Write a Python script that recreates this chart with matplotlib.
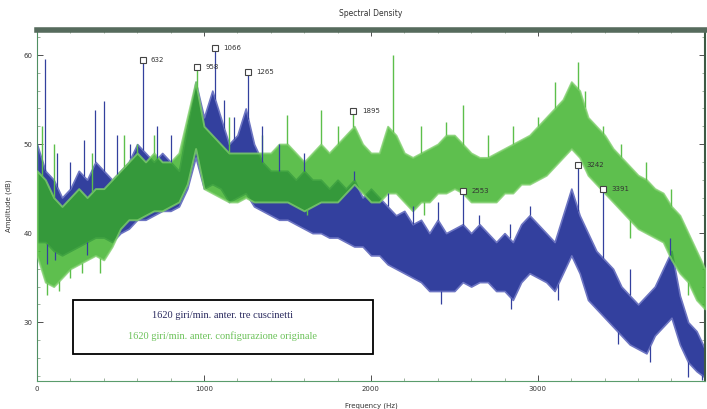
import numpy as np
import matplotlib.pyplot as plt
from matplotlib.patches import Rectangle

# frequency grid of the read-off envelope (Hz)
freq = np.arange(0, 4001, 50)

# blue: "1620 giri/min. anter. tre cuscinetti" (upper / lower edge of the trace, dB)
blue_hi = [50, 47, 46, 44, 45, 47, 46, 48, 47, 46, 47, 48, 50, 49, 48, 49, 48, 47, 52, 57,
           53, 56, 53, 50, 51, 54, 50, 48, 47, 47, 47, 46, 47, 46, 46, 45, 46, 45, 46, 44,
           45, 44, 43, 42, 42.5, 41, 41.5, 40, 41.5, 40, 40.5, 41, 40, 41, 40, 39, 40, 39, 41, 42,
           41, 40, 39, 42, 45, 42, 40, 38, 37, 36, 34, 33, 32, 33, 34, 36, 38, 33, 30, 29, 27]
blue_lo = [39, 39, 38, 37.5, 38, 38.5, 39, 39.5, 39.5, 39, 40, 40.5, 41.5, 41.5, 42, 42.5, 42.5, 43, 45, 48.5,
           45, 45.5, 45, 43.5, 44, 44.5, 43, 42.5, 42, 41.5, 41.5, 41, 40.5, 40, 40, 39.5, 39.5, 39, 38.5, 38.5,
           37.5, 37.5, 36.5, 36, 35.5, 35, 34.5, 33.5, 33.5, 33.5, 33.5, 34.5, 34, 34.5, 34.5, 33.5, 33.5, 32.5, 34.5, 35.5,
           35, 34.5, 33.5, 35.5, 37.5, 35.5, 32.5, 31.5, 30.5, 29.5, 28.5, 27.5, 27, 26.5, 28.5, 29.5, 30.5, 27.5, 25.5, 24.5, 23.8]

# green: "1620 giri/min. anter. configurazione originale"
green_hi = [47, 46, 44, 43, 44, 45, 44, 45, 45, 46, 47, 48, 49, 48, 49, 48, 48, 49, 53, 57,
            52, 51, 50, 49, 49, 49, 49, 49, 49, 50, 50, 49, 48, 49, 50, 49, 50, 51, 52, 50,
            49, 49, 52, 51, 49, 48.5, 49, 49.5, 50, 51, 51, 50, 49, 48.5, 48.5, 49, 49.5, 50, 50.5, 51,
            52, 53, 54, 55, 57, 56, 53, 52, 51, 49.5, 48.5, 47.5, 46.5, 46, 45, 44.5, 43, 42, 40, 38, 36]
green_lo = [37.5, 34.5, 34, 35, 36, 36.5, 37, 37.5, 37, 38.5, 40.5, 41.5, 41.5, 42, 42.5, 42.5, 43, 43.5, 45.5, 49.5,
            45, 44.5, 44, 43.5, 43.5, 44, 43.5, 43.5, 43.5, 43.5, 43.5, 43, 42.5, 43, 43.5, 43.5, 43.5, 44.5, 45.5, 44.5,
            43.5, 43.5, 44.5, 44.5, 43.5, 42.5, 43.5, 43.5, 44.5, 44.5, 45, 44.5, 43.5, 43.5, 43.5, 43.5, 44.5, 44.5, 45.5, 45.5,
            46, 46.5, 47.5, 48.5, 49.5, 48.5, 46.5, 45.5, 44.5, 43.5, 42.5, 41.5, 40.5, 40, 39.5, 39, 37, 35.5, 34.5, 32.5, 31.5]

# isolated spectral lines reaching above the band (Hz, dB)
blue_spike_f = [50, 120, 200, 280, 350, 400, 480, 560, 632, 720, 800, 1066, 1120, 1180,
                1265, 1350, 1450, 1600, 1900, 2100, 2250, 2400, 2553, 2650, 2830, 2950,
                3242, 3391, 3550, 3790]
blue_spike_db = [59.5, 49, 48, 50.5, 53.8, 54.8, 51, 50, 59.4, 52, 51, 60.8, 55, 53,
                 58.1, 52, 50, 49, 47, 44.5, 43, 43.5, 44.7, 42, 41, 43,
                 47.7, 44.9, 36, 39.5]
green_spike_f = [30, 100, 330, 520, 600, 700, 958, 1150, 1350, 1500, 1700, 1800, 1895, 2130,
                 2300, 2450, 2553, 2700, 2850, 3000, 3100, 3242, 3280, 3391, 3500, 3650, 3800]
green_spike_db = [52, 50, 49, 51, 50, 51, 58.7, 53, 51, 53.3, 53.8, 52, 53.7, 60,
                  52, 52.5, 54.4, 51, 52, 53, 57, 59.2, 56, 52, 50, 48, 45]

# dips reaching below the band (Hz, dB)
blue_dip_f = [60, 110, 300, 2420, 2840, 3120, 3480, 3670, 3900, 3980]
blue_dip_db = [36.5, 37, 37.5, 32, 31.5, 32.5, 27.5, 25.5, 23.8, 23.5]
green_dip_f = [60, 130, 200, 270, 380, 1620, 2320, 3550, 3900]
green_dip_db = [33, 33.5, 35, 35.5, 35.5, 42, 42, 39.5, 33]

# data tips
tip_f = [632, 958, 1066, 1265, 1895, 2553, 3242, 3391]
tip_db = [59.4, 58.7, 60.8, 58.1, 53.7, 44.7, 47.7, 44.9]

BLUE = "#33409e"
BLUE_EDGE = "#6d75c2"
GREEN = "#36b022"
GREEN_EDGE = "#7fcf6c"

fig = plt.figure(figsize=(7.07, 4.09), dpi=100)
ax = fig.add_axes([0.0523, 0.0685, 0.9447, 0.858])

ax.fill_between(freq, blue_lo, blue_hi, facecolor=BLUE, edgecolor=BLUE_EDGE,
                linewidth=1.2, zorder=2)
blue_top = np.interp(blue_spike_f, freq, blue_hi)
blue_bot = np.interp(blue_dip_f, freq, blue_lo)

ax.fill_between(freq, green_lo, green_hi, facecolor=GREEN, edgecolor=GREEN_EDGE,
                linewidth=1.4, alpha=0.8, zorder=3)
green_top = np.interp(green_spike_f, freq, green_hi)
green_bot = np.interp(green_dip_f, freq, green_lo)
ax.vlines(green_spike_f, green_top, green_spike_db, color="#5cbf4b", linewidth=1.0, zorder=3)
ax.vlines(green_dip_f, green_dip_db, green_bot, color="#5cbf4b", linewidth=1.0, zorder=3)

ax.vlines(blue_spike_f, blue_top, blue_spike_db, color=BLUE, linewidth=0.9, zorder=4)
ax.vlines(blue_dip_f, blue_dip_db, blue_bot, color=BLUE, linewidth=0.9, zorder=4)

ax.plot(tip_f, tip_db, "s", ms=5, mfc="white", mec="#444444", mew=0.8, zorder=6)
for f, db in zip(tip_f, tip_db):
    ax.annotate(str(f), (f, db), xytext=(6, 0), textcoords="offset points",
                fontsize=5, color="#333333", va="center", zorder=6)

# legend box
ax.add_patch(Rectangle((0.054, 0.077), 0.449, 0.154, transform=ax.transAxes,
                       facecolor="white", edgecolor="black", linewidth=1.3, zorder=7))
ax.text(0.278, 0.187, "1620 giri/min. anter. tre cuscinetti", transform=ax.transAxes,
        ha="center", va="center", fontsize=7.5, family="Liberation Serif",
        color="#2a2a5e", zorder=8)
ax.text(0.278, 0.128, "1620 giri/min. anter. configurazione originale", transform=ax.transAxes,
        ha="center", va="center", fontsize=7.5, family="Liberation Serif",
        color="#6cc25a", zorder=8)

ax.set_xlim(0, 4000)
ax.set_ylim(23.4, 62.8)
ax.set_xticks([0, 1000, 2000, 3000])
ax.set_yticks([30, 40, 50, 60])
ax.set_xticks(np.arange(0, 4001, 200), minor=True)
ax.set_yticks(np.arange(24, 63, 2), minor=True)
ax.tick_params(which="major", direction="in", length=4, width=0.6, labelsize=5,
               top=True, right=True, colors="#333333")
ax.tick_params(which="minor", direction="in", length=2, width=0.4, top=True, right=True,
               colors="#557755")

ax.spines["top"].set_color("#566b5d")
ax.spines["top"].set_linewidth(4)
ax.spines["left"].set_color("#4f8f62")
ax.spines["bottom"].set_color("#5a9c6c")
ax.spines["right"].set_color("#3d5a44")
ax.spines["right"].set_linewidth(1.5)

ax.set_title("Spectral Density", fontsize=5.5, pad=10, color="#333333")
ax.set_xlabel("Frequency (Hz)", fontsize=5, labelpad=8, color="#333333")
ax.set_ylabel("Amplitude (dB)", fontsize=5, labelpad=8, color="#333333")

fig.savefig("out.png", dpi=100)
